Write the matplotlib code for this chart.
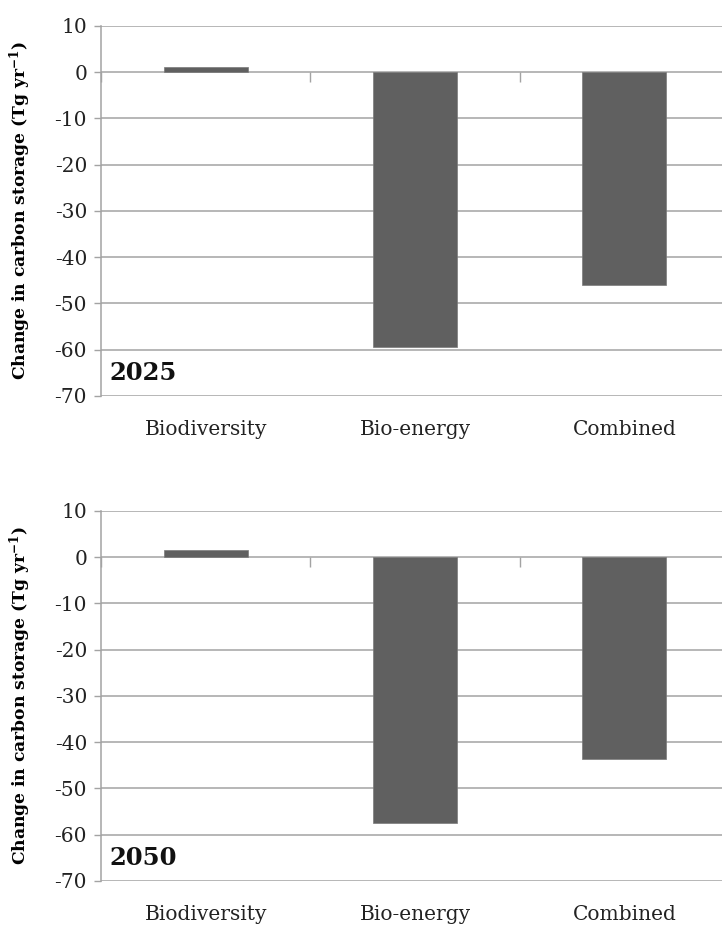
import numpy as np
import matplotlib.pyplot as plt

plt.rcParams.update({
    'font.family': 'serif',
    'font.serif': ['DejaVu Serif'],
    'mathtext.fontset': 'dejavuserif',
    'axes.unicode_minus': False,
    'font.size': 14.5,
})

# Change in carbon storage (Tg per year) by scenario
scenarios = ['Biodiversity', 'Bio-energy', 'Combined']
change_2025 = [1.2, -59.5, -46.0]
change_2050 = [1.5, -57.4, -43.7]
panel_years = ['2025', '2050']
y_ticks = list(range(-70, 11, 10))

bar_color = '#606060'
grid_color = '#a3a3a3'

fig = plt.figure(figsize=(7.22, 9.25), dpi=100)

# axes boxes in figure fractions (right edge runs slightly past the canvas)
boxes = [
    [0.1399, 0.5719, 0.8698, 0.4000],
    [0.1399, 0.0476, 0.8698, 0.4000],
]

for box, values, year in zip(boxes, [change_2025, change_2050], panel_years):
    ax = fig.add_axes(box)
    x = np.arange(len(scenarios))
    ax.bar(x, values, width=0.40, color=bar_color, edgecolor='#7a7a7a',
           linewidth=0.5, zorder=3)

    ax.set_xlim(-0.5, len(scenarios) - 0.5)
    ax.set_ylim(min(y_ticks), max(y_ticks))
    ax.set_yticks(y_ticks)
    ax.yaxis.grid(True, color=grid_color, linewidth=1.1, zorder=0)
    ax.tick_params(axis='y', length=5, width=1, color=grid_color, pad=5,
                   labelsize=14.5, labelcolor='#222222')

    # category labels below the plot, no tick marks
    ax.set_xticks(x)
    ax.set_xticklabels(scenarios)
    ax.tick_params(axis='x', length=0, pad=17, labelsize=14.5,
                   labelcolor='#222222')

    for side in ['top', 'right', 'bottom']:
        ax.spines[side].set_visible(False)
    ax.spines['left'].set_color(grid_color)
    ax.spines['left'].set_linewidth(1.1)

    # category-boundary ticks hanging below the zero line
    zero_frac = (0 - min(y_ticks)) / (max(y_ticks) - min(y_ticks))
    sec = ax.secondary_xaxis(zero_frac)
    sec.set_xticks(np.arange(-0.5, len(scenarios) + 0.5, 1.0))
    sec.set_xticklabels([])
    sec.tick_params(length=7, width=1, color=grid_color, direction='in')
    sec.spines['bottom'].set_visible(False)
    sec.spines['top'].set_visible(False)

    ax.set_ylabel(r'Change in carbon storage (Tg yr$^{\mathbf{-1}}$)',
                  fontsize=12.3, fontweight='bold')
    ax.yaxis.set_label_coords(-0.108, 0.5)

    ax.text(0.013, 0.062, year, transform=ax.transAxes, fontsize=17.5,
            fontweight='bold', ha='left', va='center', color='#111111')

fig.savefig('out.png', dpi=100)
